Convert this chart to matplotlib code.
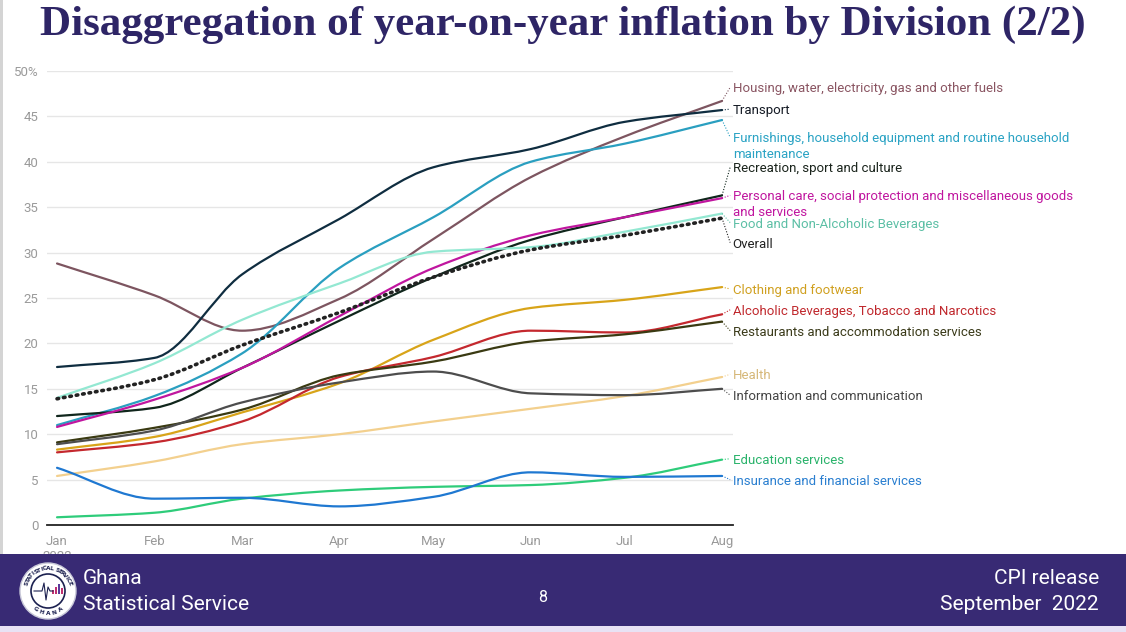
import numpy as np
import pandas as pd
import matplotlib as mpl
mpl.use('Agg')
import matplotlib.pyplot as plt
from matplotlib.path import Path
from matplotlib.patches import PathPatch, Rectangle, Circle

# ---------------------------------------------------------------- data
months = ['2022-01-01', '2022-02-01', '2022-03-01', '2022-04-01',
          '2022-05-01', '2022-06-01', '2022-07-01', '2022-08-01']
month_labels = ['Jan\n2022', 'Feb', 'Mar', 'Apr', 'May', 'Jun', 'Jul', 'Aug']

housing = [28.8, 25.3, 21.4, 24.9, 31.5, 38.3, 42.8, 46.7]
transport = [17.4, 18.4, 27.6, 33.7, 39.4, 41.4, 44.4, 45.7]
furnishings = [11.0, 14.2, 18.9, 28.3, 33.9, 40.0, 42.0, 44.6]
recreation = [12.0, 12.9, 17.3, 22.5, 27.3, 31.4, 33.9, 36.3]
personal = [10.8, 13.8, 17.3, 23.0, 28.3, 31.9, 33.9, 36.0]
food = [14.0, 17.8, 22.6, 26.6, 30.1, 30.6, 32.3, 34.3]
overall = [13.9, 16.0, 19.8, 23.4, 27.3, 30.3, 31.9, 33.8]
clothing = [8.3, 9.7, 12.4, 15.6, 20.4, 23.9, 24.8, 26.2]
alcoholic = [8.0, 9.1, 11.4, 16.3, 18.5, 21.4, 21.2, 23.2]
restaurants = [9.1, 10.7, 12.7, 16.5, 18.0, 20.2, 21.0, 22.4]
health = [5.4, 7.0, 8.9, 10.0, 11.4, 12.8, 14.2, 16.3]
information = [8.9, 10.4, 13.5, 15.7, 16.9, 14.5, 14.3, 15.0]
education = [0.85, 1.35, 2.9, 3.8, 4.2, 4.4, 5.2, 7.2]
insurance = [6.3, 2.9, 3.0, 2.05, 3.1, 5.8, 5.3, 5.4]

# (name, values, line colour, label colour, label y)
SERIES = [
    ('Housing, water, electricity, gas and other fuels', housing, '#7d5560', '#8a5562', 48.2),
    ('Transport', transport, '#0f2d40', '#141a24', 45.8),
    ('Furnishings, household equipment and routine household\nmaintenance', furnishings, '#2a9fc0', '#2aa3c4', 42.7),
    ('Recreation, sport and culture', recreation, '#10261c', '#1a241c', 39.4),
    ('Personal care, social protection and miscellaneous goods\nand services', personal, '#c0169f', '#c0169f', 36.3),
    ('Food and Non-Alcoholic Beverages', food, '#93e8d2', '#5cbfa5', 33.3),
    ('Overall', overall, '#222222', '#222222', 31.1),
    ('Clothing and footwear', clothing, '#d8a419', '#d0a020', 26.0),
    ('Alcoholic Beverages, Tobacco and Narcotics', alcoholic, '#c4282e', '#c0282d', 23.7),
    ('Restaurants and accommodation services', restaurants, '#3a3a12', '#3b3b1a', 21.4),
    ('Health', health, '#f3d08e', '#d6b879', 16.6),
    ('Information and communication', information, '#4d4d4d', '#444444', 14.3),
    ('Education services', education, '#2ecc7a', '#2ab36b', 7.3),
    ('Insurance and financial services', insurance, '#1f78d1', '#2a7fd0', 5.0),
]

dates = pd.to_datetime(months)
days = np.array((dates - dates[0]).days, dtype=float)


def smooth_path(x, y):
    # monotone cubic (Fritsch-Carlson) turned into bezier segments
    x = np.asarray(x, float)
    y = np.asarray(y, float)
    h = np.diff(x)
    d = np.diff(y) / h
    m = np.zeros_like(y)
    m[0] = d[0]
    m[-1] = d[-1]
    for k in range(1, len(y) - 1):
        if d[k - 1] * d[k] <= 0:
            m[k] = 0.0
        else:
            w1 = 2 * h[k] + h[k - 1]
            w2 = h[k] + 2 * h[k - 1]
            m[k] = (w1 + w2) / (w1 / d[k - 1] + w2 / d[k])
    verts = [(x[0], y[0])]
    codes = [Path.MOVETO]
    for k in range(len(h)):
        verts += [(x[k] + h[k] / 3, y[k] + m[k] * h[k] / 3),
                  (x[k + 1] - h[k] / 3, y[k + 1] - m[k + 1] * h[k] / 3),
                  (x[k + 1], y[k + 1])]
        codes += [Path.CURVE4] * 3
    return Path(verts, codes)


# ---------------------------------------------------------------- figure
W, H = 1126, 632
fig = plt.figure(figsize=(W / 100, H / 100), dpi=100)
fig.patch.set_facecolor('white')

ax = fig.add_axes([47 / W, 1 - 525 / H, (733 - 47) / W, (525 - 71) / H])
ax.set_facecolor('none')
ax.set_xlim(days[0] - 3.2, days[-1] + 3.5)
ax.set_ylim(0, 50)

for name, vals, lc, tc, ly in SERIES:
    if name == 'Overall':
        patch = PathPatch(smooth_path(days, vals), fill=False, edgecolor=lc,
                          linewidth=2.6, linestyle=(0, (0.45, 1.35)), capstyle='round', zorder=3)
    else:
        patch = PathPatch(smooth_path(days, vals), fill=False, edgecolor=lc,
                          linewidth=1.6, capstyle='round', zorder=3)
    ax.add_patch(patch)
    # leader line + label
    ax.plot([days[-1], days[-1] + 2.6], [vals[-1], ly], color=lc if lc != '#93e8d2' else '#5cbfa5',
            linewidth=0.8, linestyle=(0, (1, 1.5)), clip_on=False, zorder=3)
    ax.annotate(name, xy=(days[-1] + 3.4, ly), xytext=(0, 3.6), textcoords='offset points',
                ha='left', va='top', fontsize=9.5, color=tc, family='Roboto',
                linespacing=1.3, annotation_clip=False)

ax.set_yticks(np.arange(0, 51, 5))
ax.set_yticklabels(['0', '5', '10', '15', '20', '25', '30', '35', '40', '45', '50%'])
ax.set_xticks(days)
ax.set_xticklabels(month_labels)
ax.grid(axis='y', color='#e6e6e6', linewidth=1.0)
ax.set_axisbelow(True)
for s in ['top', 'right', 'left']:
    ax.spines[s].set_visible(False)
ax.spines['bottom'].set_color('#222222')
ax.spines['bottom'].set_linewidth(1.3)
ax.tick_params(axis='both', length=0, labelsize=9.5, labelcolor='#9a9a9a')
ax.tick_params(axis='y', pad=6)
ax.tick_params(axis='x', pad=7)
for lbl in ax.get_xticklabels() + ax.get_yticklabels():
    lbl.set_family('Roboto')

# ---------------------------------------------------------------- title
fig.text(0.5, 1 - 25 / H, 'Disaggregation of year-on-year inflation by Division (2/2)',
         ha='center', va='center', fontsize=31, fontweight='bold',
         family='Liberation Serif', color='#2e2566')

# left grey edge
fig.add_artist(Rectangle((0, 1 - 554 / H), 3 / W, 554 / H, transform=fig.transFigure,
                         facecolor='#d4d4d4', edgecolor='none', zorder=1))

# ---------------------------------------------------------------- footer band
fig.add_artist(Rectangle((0, 6 / H), 1, (626 - 554) / H, transform=fig.transFigure,
                         facecolor='#382a74', edgecolor='none', zorder=5))
fig.add_artist(Rectangle((0, 0), 1, 6 / H, transform=fig.transFigure,
                         facecolor='#e8e2f4', edgecolor='none', zorder=5))

foot = dict(fontsize=15, family='Roboto', color='white', zorder=6, va='center')
fig.text(83 / W, 1 - 579 / H, 'Ghana', ha='left', **foot)
fig.text(83 / W, 1 - 604 / H, 'Statistical Service', ha='left', **foot)
fig.text(1099 / W, 1 - 579 / H, 'CPI release', ha='right', **foot)
fig.text(1099 / W, 1 - 604 / H, 'September  2022', ha='right', **foot)
fig.text(543 / W, 1 - 598 / H, '8', ha='center', va='center', fontsize=11.5,
         family='Roboto', color='white', zorder=6)

# ---------------------------------------------------------------- logo
lax = fig.add_axes([(48 - 30) / W, 1 - (591 + 30) / H, 60 / W, 60 / H], zorder=7)
lax.set_xlim(-30, 30)
lax.set_ylim(-30, 30)
lax.set_aspect('equal')
lax.axis('off')
lax.add_patch(Circle((0, 0), 28, facecolor='white', edgecolor='#c8c8d8', linewidth=1))
lax.add_patch(Circle((0, 0), 17, facecolor='white', edgecolor='#1c2150', linewidth=1.2))
for txt, a0, a1, sgn in [('STATISTICAL SERVICE', 160, 20, 1), ('GHANA', 235, 305, -1)]:
    angs = np.linspace(a0, a1, len(txt))
    for ch, a in zip(txt, angs):
        r = 22.5
        lax.text(r * np.cos(np.radians(a)), r * np.sin(np.radians(a)), ch,
                 rotation=a - 90 if sgn > 0 else a + 90, ha='center', va='center',
                 fontsize=4.2, fontweight='bold', color='#1c2150', family='DejaVu Sans')
lax.plot([-14, -6, -4, -2, 0, 2, 5], [0, 0, 8, -9, 4, 0, 0], color='#1c2150', linewidth=0.8)
for bx, bh, bc in [(5, 4, '#c03070'), (8, 7, '#c03070'), (11, 10, '#5a3a9a'), (14, 6, '#c03070')]:
    lax.add_patch(Rectangle((bx - 1, -3), 2, bh, facecolor=bc, edgecolor='none'))

fig.savefig('out.png', dpi=100)
